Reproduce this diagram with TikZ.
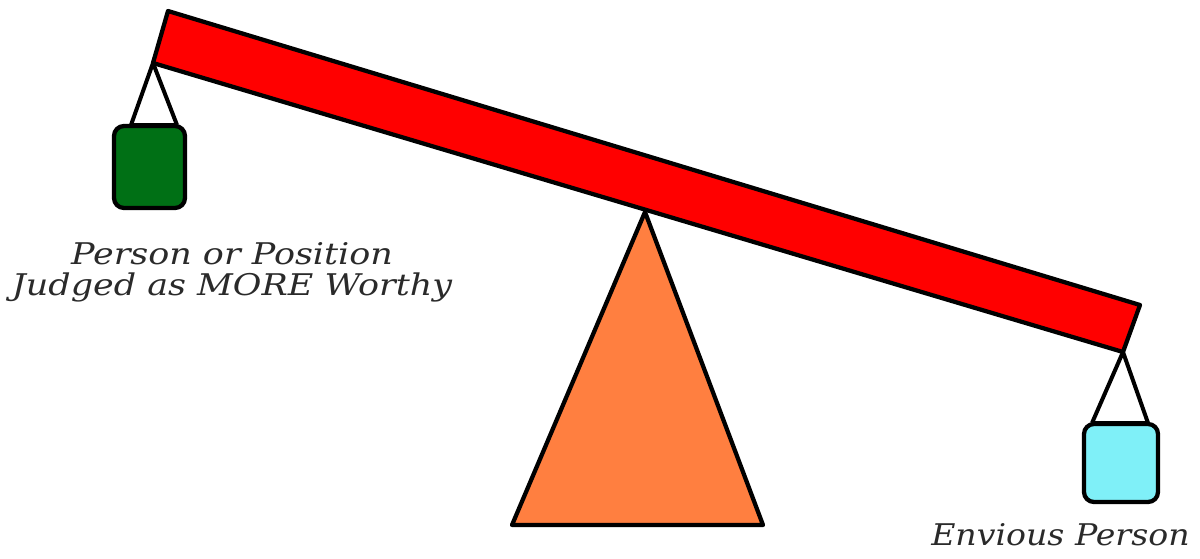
\documentclass[tikz,border=0pt]{standalone}
\usepackage{fontspec}
\setmainfont{DejaVu Serif}
\definecolor{beamred}{HTML}{FF0000}
\definecolor{fulcrum}{HTML}{FF7F40}
\definecolor{wgreen}{HTML}{007015}
\definecolor{wcyan}{HTML}{7FF0F8}
\definecolor{txt}{HTML}{2A2A2A}
\begin{document}
\begin{tikzpicture}[x=0.02cm,y=-0.02cm,
  outl/.style={draw=black,line width=0.085cm,line join=round},
  weight/.style={outl,rounded corners=0.2cm},
  rope/.style={draw=black,line width=0.08cm},
  lbl/.style={text=txt,font=\itshape\fontsize{17}{17.5}\selectfont,align=center,inner sep=0pt}]
\useasboundingbox (0,0) rectangle (1200,558);
% beam corners
\coordinate (btl) at (168,11);
\coordinate (bbl) at (153,63);
\coordinate (btr) at (1140,305);
\coordinate (bbr) at (1123,352);
% fulcrum
\coordinate (apex) at (645,212);
\coordinate (fl) at (512,525);
\coordinate (fr) at (763,525);
\draw[outl,fill=fulcrum] (apex) -- (fr) -- (fl) -- cycle;
\draw[outl,fill=beamred] (btl) -- (btr) -- (bbr) -- (bbl) -- cycle;
% left weight
\coordinate (lr1) at (131,125);
\coordinate (lr2) at (177,125);
\draw[rope] (lr1) -- (bbl) -- (lr2);
\draw[weight,fill=wgreen] (114,126) rectangle (185,208);
\draw[rope,line width=0.1cm] (lr1) -- (lr2);
% right weight
\coordinate (rr1) at (1092,423);
\coordinate (rr2) at (1148,423);
\draw[rope] (rr1) -- (bbr) -- (rr2);
\draw[weight,fill=wcyan] (1084,424) rectangle (1158,502);
\draw[rope,line width=0.1cm] (rr1) -- (rr2);
% labels
\node[lbl] (l1) at (232,272) {\scalebox{1.17}[1]{Person or Position}\\\scalebox{1.17}[1]{Judged as MORE Worthy}};
\node[lbl,anchor=base east] (r1) at (1190,545) {\scalebox{1.11}[1]{Envious Person}};
\end{tikzpicture}
\end{document}
